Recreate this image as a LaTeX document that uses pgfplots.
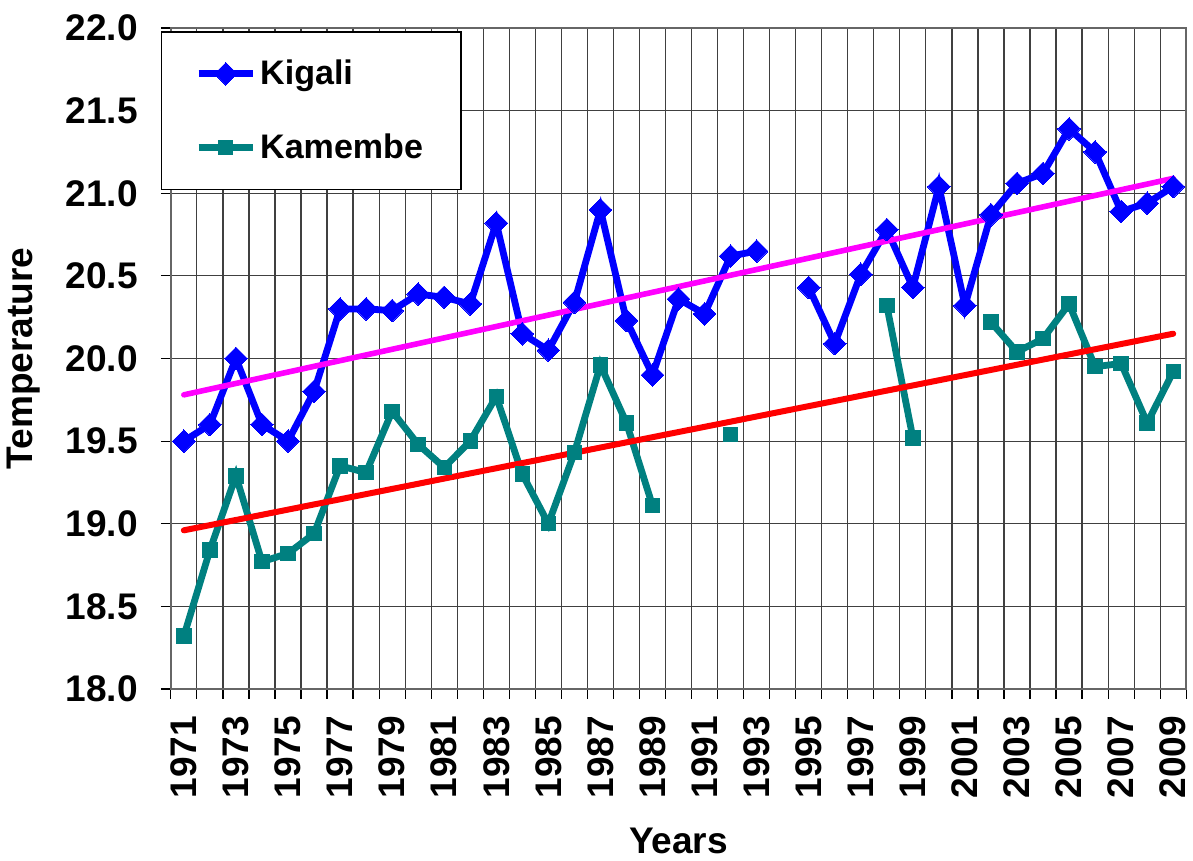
\documentclass[border=0pt]{standalone}
\usepackage{fontspec}
\setmainfont{Liberation Sans}
\usepackage{pgfplots}
\usepackage{pgfplotstable}
\pgfplotsset{compat=1.18}
\definecolor{kig}{RGB}{0,0,255}
\definecolor{kam}{RGB}{0,128,128}
\definecolor{mag}{RGB}{255,0,255}
\definecolor{trd}{RGB}{255,0,0}
\newcommand{\bigbf}{\fontsize{18.5}{22}\selectfont\bfseries}
\newcommand{\legbf}{\fontsize{17}{20}\selectfont\bfseries}
\pgfplotstableread{
year temp
1971 19.50
1972 19.60
1973 20.00
1974 19.60
1975 19.50
1976 19.80
1977 20.30
1978 20.30
1979 20.29
1980 20.39
1981 20.37
1982 20.33
1983 20.82
1984 20.15
1985 20.05
1986 20.34
1987 20.90
1988 20.23
1989 19.90
1990 20.36
1991 20.27
1992 20.62
1993 20.65
1994 nan
1995 20.43
1996 20.09
1997 20.51
1998 20.78
1999 20.43
2000 21.04
2001 20.32
2002 20.87
2003 21.06
2004 21.12
2005 21.39
2006 21.25
2007 20.89
2008 20.94
2009 21.04
}\kigali
\pgfplotstableread{
year temp
1971 18.32
1972 18.84
1973 19.29
1974 18.77
1975 18.82
1976 18.94
1977 19.35
1978 19.31
1979 19.68
1980 19.48
1981 19.34
1982 19.50
1983 19.77
1984 19.30
1985 19.00
1986 19.43
1987 19.96
1988 19.61
1989 19.11
1990 nan
1991 nan
1992 19.54
1993 nan
1994 nan
1995 nan
1996 nan
1997 nan
1998 20.32
1999 19.52
2000 nan
2001 nan
2002 20.22
2003 20.04
2004 20.12
2005 20.33
2006 19.95
2007 19.97
2008 19.61
2009 19.92
}\kamembe
\begin{document}
\begin{tikzpicture}
\begin{axis}[
  scale only axis, width=507pt, height=330pt,
  xmin=1970.5, xmax=2009.5, ymin=18, ymax=22,
  xtick={1970.5,1971.5,1972.5,1973.5,1974.5,1975.5,1976.5,1977.5,1978.5,1979.5,1980.5,1981.5,1982.5,1983.5,1984.5,1985.5,1986.5,1987.5,1988.5,1989.5,1990.5,1991.5,1992.5,1993.5,1994.5,1995.5,1996.5,1997.5,1998.5,1999.5,2000.5,2001.5,2002.5,2003.5,2004.5,2005.5,2006.5,2007.5,2008.5,2009.5},
  xticklabels={},
  extra x ticks={1971,1973,1975,1977,1979,1981,1983,1985,1987,1989,1991,1993,1995,1997,1999,2001,2003,2005,2007,2009},
  extra x tick labels={1971,1973,1975,1977,1979,1981,1983,1985,1987,1989,1991,1993,1995,1997,1999,2001,2003,2005,2007,2009},
  extra x tick style={grid=none, major tick length=0pt, tick label style={rotate=90, anchor=east, font=\bigbf}, xticklabel shift=10pt},
  ytick={18,18.5,19,19.5,20,20.5,21,21.5,22},
  yticklabel style={font=\bigbf, /pgf/number format/.cd, fixed, precision=1, fixed zerofill, assume math mode=true},
  yticklabel shift=8pt,
  tick align=outside, major tick length=5pt,
  xtick pos=left, ytick pos=left,
  tick style={black, line width=0.6pt},
  grid=major,
  major grid style={black!75, line width=0.6pt},
  axis line style={black!60, line width=1pt},
  xlabel={Years}, ylabel={Temperature},
  label style={font=\bigbf},
  xlabel style={yshift=-3pt},
  ylabel style={yshift=6pt},
  unbounded coords=jump,
  legend style={at={(rel axis cs:-0.01,0.995)}, anchor=north west, draw=black, line width=0.6pt, font=\legbf, row sep=19pt, inner xsep=17pt, inner ysep=12pt, fill=white},
  legend cell align=left,
  legend image code/.code={\draw[mark repeat=2,mark phase=2] plot coordinates {(0pt,0pt) (13.5pt,0pt) (27pt,0pt)};},
]
\addplot[kig, line width=3.4pt, mark=square*, mark size=4pt, mark options={rotate=45, solid, line width=0pt}] table[x=year,y=temp] {\kigali};
\addlegendentry{Kigali}
\addplot[kam, line width=3.4pt, mark=square*, mark size=3.6pt, mark options={solid, line width=0pt}] table[x=year,y=temp] {\kamembe};
\addlegendentry{Kamembe}
\addplot[mag, line width=2.8pt, line cap=round, forget plot] coordinates {(1971,19.78) (2009,21.09)};
\addplot[trd, line width=3pt, line cap=round, forget plot] coordinates {(1971,18.96) (2009,20.15)};
\end{axis}
\path (current axis.north west) ++(0,14pt);
\end{tikzpicture}
\end{document}
